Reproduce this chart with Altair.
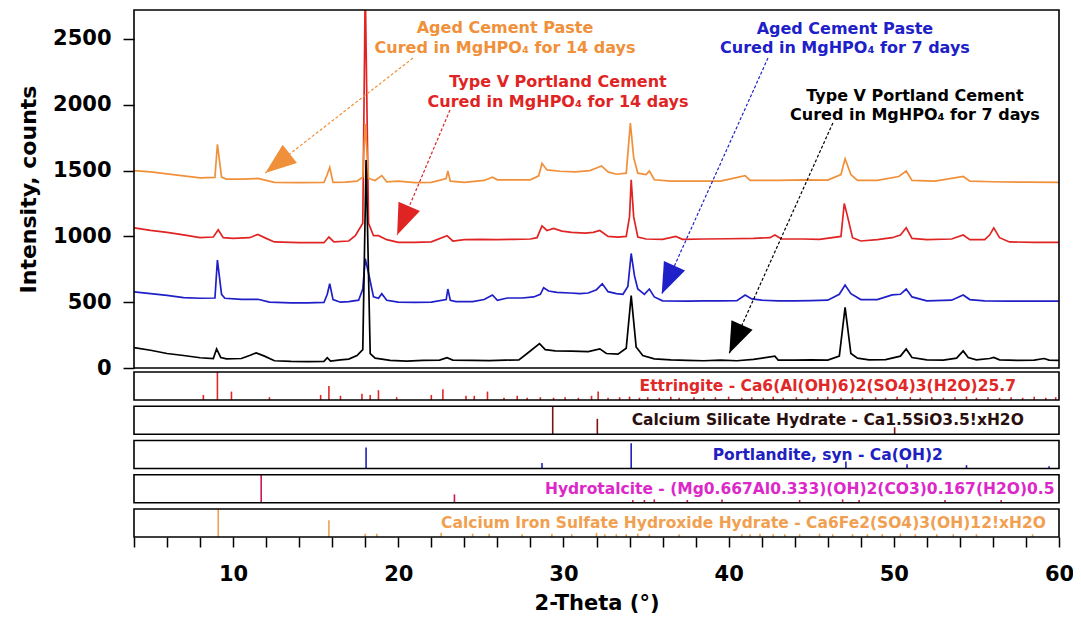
import math
import altair as alt
import pandas as pd

# ---------------- data (2-Theta in degrees, intensity in counts) ----------------
BLACK_X = [4.0, 5.0, 6.0, 7.0, 8.0, 8.8, 9.0, 9.25, 9.6, 10.5, 11.0, 11.4, 11.9, 12.5, 13.5, 14.5,
           15.5, 15.7, 15.9, 16.5, 17.0, 17.5, 17.85, 18.05, 18.3, 18.6, 18.9, 19.5, 20.5, 21.5,
           22.5, 22.95, 23.3, 24.5, 25.5, 26.5, 27.3, 27.8, 28.55, 28.9, 29.5, 30.5, 31.5, 32.2,
           32.6, 33.3, 33.8, 34.1, 34.4, 34.8, 35.5, 36.5, 37.5, 38.5, 39.5, 40.5, 41.5, 42.8,
           43.0, 44.0, 45.0, 46.0, 46.7, 47.05, 47.4, 47.8, 48.5, 49.5, 50.4, 50.75, 51.1, 52.0,
           53.0, 53.8, 54.2, 54.5, 55.0, 55.8, 56.05, 56.4, 57.5, 58.5, 59.1, 59.4, 60.0]
BLACK_Y = [155, 135, 110, 95, 78, 72, 145, 80, 70, 72, 95, 115, 90, 55, 50, 48,
           50, 78, 52, 62, 68, 95, 140, 1580, 110, 75, 70, 58, 52, 58,
           60, 78, 60, 58, 56, 60, 62, 110, 185, 140, 130, 128, 125, 145,
           110, 105, 150, 550, 160, 95, 70, 62, 58, 55, 60, 55, 65, 90,
           60, 60, 62, 60, 90, 460, 110, 75, 62, 64, 90, 145, 80, 62,
           60, 75, 130, 80, 62, 72, 80, 62, 58, 60, 72, 60, 58]

BLUE_X = [4.0, 5.0, 6.0, 7.0, 8.0, 8.9, 9.05, 9.3, 9.5, 10.5, 11.5, 12.2, 13.5, 14.5, 15.5, 15.7,
          15.85, 16.05, 16.5, 17.0, 17.6, 17.85, 18.0, 18.2, 18.5, 18.8, 19.0, 19.3, 20.0, 21.0,
          22.0, 22.9, 23.0, 23.15, 23.5, 24.5, 25.2, 25.7, 26.0, 26.6, 27.5, 28.2, 28.6, 28.8,
          29.1, 29.6, 30.4, 31.0, 31.5, 32.0, 32.35, 32.7, 33.2, 33.6, 33.9, 34.1, 34.3, 34.5,
          34.9, 35.2, 35.5, 36.0, 37.5, 38.5, 39.5, 40.5, 41.0, 41.4, 42.0, 43.0, 44.0, 45.0,
          46.0, 46.7, 47.05, 47.4, 48.0, 49.0, 49.9, 50.4, 50.75, 51.1, 52.0, 53.5, 54.2, 54.6,
          55.5, 57.0, 58.5, 60.0]
BLUE_Y = [578, 565, 552, 535, 530, 532, 820, 560, 530, 522, 522, 500, 495, 495, 498, 560,
          640, 520, 500, 505, 515, 600, 830, 720, 540, 530, 565, 515, 500, 498,
          500, 520, 600, 515, 505, 505, 520, 555, 515, 532, 532, 540, 560, 610,
          585, 575, 570, 565, 570, 595, 640, 580, 565, 560, 620, 870, 700, 600,
          560, 600, 540, 510, 508, 510, 510, 512, 555, 525, 515, 510, 510, 512,
          515, 560, 630, 565, 520, 520, 555, 560, 600, 540, 510, 515, 555, 520,
          510, 508, 508, 508]

RED_X = [4.0, 5.0, 6.0, 7.0, 8.0, 8.8, 9.1, 9.4, 10.0, 11.0, 11.5, 12.0, 12.5, 14.0, 15.5, 15.8,
         16.1, 17.0, 17.4, 17.85, 18.0, 18.2, 18.5, 18.8, 19.3, 20.0, 21.0, 22.0, 22.95, 23.3,
         24.0, 25.0, 26.0, 27.0, 28.0, 28.4, 28.7, 29.0, 29.4, 29.9, 30.5, 31.3, 31.8, 32.2,
         32.7, 33.3, 33.8, 34.0, 34.1, 34.25, 34.5, 35.0, 36.0, 36.8, 37.2, 38.5, 40.0, 41.5,
         42.5, 42.8, 43.2, 44.5, 45.5, 46.8, 47.0, 47.2, 47.5, 48.0, 49.0, 49.9, 50.4, 50.75,
         51.1, 52.0, 53.5, 54.2, 54.6, 55.5, 55.8, 56.05, 56.4, 57.0, 58.5, 60.0]
RED_Y = [1065, 1045, 1030, 1012, 990, 995, 1050, 990, 985, 990, 1015, 985, 958, 952, 952, 995,
         958, 965, 1005, 1100, 2900, 1100, 1005, 1005, 975, 955, 955, 958, 1005, 965,
         975, 978, 975, 978, 980, 990, 1080, 1045, 1060, 1040, 1030, 1025, 1030, 1045,
         1000, 995, 1000, 1150, 1430, 1150, 995, 980, 978, 1000, 978, 980, 982, 985,
         990, 1010, 980, 980, 978, 1000, 1250, 1150, 990, 965, 975, 990, 1010, 1065,
         985, 975, 980, 1010, 975, 975, 1010, 1065, 990, 958, 955, 955]

ORANGE_X = [4.0, 5.0, 6.0, 7.0, 8.0, 8.9, 9.05, 9.3, 9.6, 10.5, 11.5, 12.0, 12.5, 14.0, 15.5, 15.7,
            15.85, 16.05, 16.8, 17.5, 17.85, 18.0, 18.2, 18.6, 19.0, 19.3, 20.0, 21.0, 22.0, 22.9,
            23.0, 23.15, 24.0, 25.2, 25.7, 26.0, 27.0, 28.0, 28.5, 28.7, 29.0, 29.8, 30.7, 31.6,
            32.0, 32.3, 32.7, 33.2, 33.8, 34.05, 34.25, 34.5, 35.0, 35.2, 35.5, 36.5, 38.0, 39.5,
            41.0, 41.3, 43.0, 44.5, 46.0, 46.8, 47.05, 47.4, 47.8, 49.0, 50.3, 50.75, 51.1, 52.5,
            54.2, 54.6, 56.0, 58.0, 60.0]
ORANGE_Y = [1500, 1490, 1475, 1460, 1445, 1448, 1700, 1450, 1435, 1435, 1440, 1425, 1410, 1408, 1410, 1470,
            1525, 1410, 1412, 1420, 1450, 1855, 1440, 1425, 1462, 1415, 1420, 1408, 1410, 1440,
            1497, 1420, 1410, 1425, 1450, 1430, 1430, 1430, 1460, 1555, 1505, 1495, 1490, 1500,
            1520, 1535, 1490, 1472, 1480, 1860, 1600, 1480, 1470, 1497, 1430, 1420, 1420, 1420,
            1462, 1425, 1425, 1430, 1428, 1470, 1590, 1470, 1425, 1425, 1455, 1497, 1425, 1420,
            1455, 1420, 1415, 1412, 1410]

# reference patterns: stick positions (2-Theta) and relative heights (0..1)
ETT_POS = [8.2, 9.05, 9.9, 12.2, 15.3, 15.8, 16.5, 17.8, 18.3, 18.8, 19.9, 22.0, 22.7, 24.1, 24.6,
           25.4, 26.4, 27.2, 27.8, 28.6, 29.4, 30.1, 30.9, 31.7, 32.1, 32.7, 33.4, 34.0, 34.6,
           35.1, 35.8, 36.5, 37.0, 37.9, 38.5, 39.2, 40.0, 40.8, 41.4, 42.1, 42.7, 43.3, 44.1,
           44.8, 45.4, 46.0, 46.8, 47.5, 48.1, 48.9, 49.5, 50.2, 51.0, 51.6, 52.3, 53.0, 53.7,
           54.4, 55.0, 55.7, 56.4, 57.1, 57.8, 58.5, 59.2, 59.8]
ETT_H = [0.18, 1.0, 0.3, 0.1, 0.18, 0.5, 0.15, 0.22, 0.18, 0.35, 0.1, 0.18, 0.38, 0.15, 0.15,
         0.3, 0.08, 0.15, 0.08, 0.1, 0.08, 0.1, 0.08, 0.15, 0.3, 0.08, 0.1, 0.12, 0.08,
         0.1, 0.08, 0.12, 0.08, 0.1, 0.08, 0.1, 0.12, 0.08, 0.1, 0.08, 0.12, 0.08, 0.1,
         0.08, 0.1, 0.12, 0.08, 0.1, 0.08, 0.1, 0.08, 0.12, 0.1, 0.08, 0.1, 0.08, 0.1,
         0.12, 0.08, 0.1, 0.08, 0.1, 0.08, 0.12, 0.08, 0.1]
CSH_POS = [29.35, 32.05, 50.05]
CSH_H = [1.0, 0.55, 0.25]
PORT_POS = [18.05, 28.7, 34.1, 47.1, 50.8, 54.4, 59.4]
PORT_H = [0.75, 0.2, 0.9, 0.25, 0.15, 0.12, 0.08]
HYD_POS = [11.7, 23.4, 34.2, 34.9, 35.5, 37.5, 39.6, 44.3, 46.9, 47.9, 53.1, 56.5]
HYD_H = [1.0, 0.3, 0.1, 0.1, 0.12, 0.1, 0.12, 0.1, 0.12, 0.1, 0.1, 0.1]
CFS_POS = [9.1, 15.8, 18.0, 18.7, 22.6, 24.5, 25.5, 27.5, 29.3, 30.5, 32.0, 32.5, 33.2, 33.8,
           34.5, 35.2, 37.0, 40.8, 41.3, 41.9, 42.7, 43.4, 44.3, 45.5, 46.3, 47.5, 48.4, 49.3,
           50.4, 51.3, 52.6, 53.6, 55.0, 58.4]
CFS_H = [1.0, 0.6, 0.12, 0.12, 0.15, 0.12, 0.12, 0.1, 0.12, 0.1, 0.15, 0.1, 0.1, 0.1,
         0.12, 0.1, 0.1, 0.1, 0.1, 0.12, 0.1, 0.1, 0.1, 0.12, 0.1, 0.1, 0.1, 0.1,
         0.12, 0.1, 0.1, 0.1, 0.1, 0.1]

PHASE_LABELS = [
    "Ettringite - Ca6(Al(OH)6)2(SO4)3(H2O)25.7",
    "Calcium Silicate Hydrate - Ca1.5SiO3.5!xH2O",
    "Portlandite, syn - Ca(OH)2",
    "Hydrotalcite - (Mg0.667Al0.333)(OH)2(CO3)0.167(H2O)0.5",
    "Calcium Iron Sulfate Hydroxide Hydrate - Ca6Fe2(SO4)3(OH)12!xH2O",
]
PHASE_LABEL_X = [46.0, 46.0, 46.0, 44.3, 40.9]
PHASE_LABEL_SIZE = [15.5, 15.5, 15.5, 15.5, 15.5]
PHASE_STICK_COLORS = ["#E02828", "#7A1515", "#2020C0", "#C8185A", "#F0A050"]
PHASE_TEXT_COLORS = ["#E02828", "#2A0F0F", "#2020C0", "#DC28C8", "#F0A050"]

ANNOT_LINE1 = ["Aged Cement Paste", "Type V Portland Cement", "Aged Cement Paste", "Type V Portland Cement"]
ANNOT_LINE2 = ["Cured in MgHPO\u2084 for 14 days", "Cured in MgHPO\u2084 for 14 days",
               "Cured in MgHPO\u2084 for 7 days", "Cured in MgHPO\u2084 for 7 days"]
ANNOT_X = [26.46, 29.67, 47.04, 51.28]
ANNOT_Y1 = [2583, 2173, 2576, 2067]
ANNOT_Y2 = [2431, 2021, 2431, 1922]
ANNOT_COLORS = ["#F0903A", "#E02424", "#2020C8", "#000000"]
ARROW_START_X = [20.89, 23.13, 42.38, 46.31]
ARROW_START_Y = [2355, 1960, 2355, 1862]
ARROW_TIP_X = [11.95, 19.93, 35.95, 40.04]
ARROW_TIP_Y = [1482, 1011, 562, 112]

SERIES_COLORS = {"red": "#E02424", "orange": "#F0903A", "blue": "#1F1FC8", "black": "#000000"}

# ---------------- layout ----------------
X_MIN, X_MAX = 4, 60
Y_TOP = 2720
PLOT_W = 925
MAIN_H = 358
TOTAL_H = 527
U = Y_TOP / MAIN_H                     # counts per pixel
Y_MIN = -(TOTAL_H - MAIN_H) * U
PANEL_OFFS = [4, 38.25, 72.5, 106.75, 141]
PANEL_H = 28
PX_PER_DEG = PLOT_W / (X_MAX - X_MIN)

FONT = "DejaVu Sans"

xs = alt.Scale(domain=[X_MIN, X_MAX], nice=False, zero=False)
ys = alt.Scale(domain=[Y_MIN, Y_TOP], nice=False, zero=False)

xaxis = alt.Axis(values=list(range(4, 61, 2)),
                 labelExpr="datum.value % 10 === 0 ? datum.label : ''",
                 tickSize=10, tickWidth=1.5, tickColor="black", domain=False, grid=False,
                 labelFont=FONT, labelFontWeight="bold", labelFontSize=21, labelColor="black",
                 labelPadding=16, labelFlush=False, labelOverlap=False,
                 titleFont=FONT, titleFontWeight="bold", titleFontSize=21, titleColor="black",
                 titleY=66, titleBaseline="middle")
yaxis = alt.Axis(values=[0, 500, 1000, 1500, 2000, 2500], format="d",
                 tickSize=11, tickWidth=1.5, tickColor="black", domain=False, grid=False,
                 labelFont=FONT, labelFontWeight="bold", labelFontSize=21, labelColor="black",
                 labelPadding=12,
                 titleFont=FONT, titleFontWeight="bold", titleFontSize=22, titleColor="black",
                 titleX=-106, titleY=179, titleAngle=270, titleBaseline="middle", titleAlign="center")

XE = alt.X("x:Q", scale=xs, axis=xaxis, title="2-Theta (\u00b0)")
YE = alt.Y("y:Q", scale=ys, axis=yaxis, title="Intensity, counts")

# borders
bx, bx2, by, by2 = [X_MIN], [X_MAX], [0], [Y_TOP]
panel_bounds = []
for off in PANEL_OFFS:
    top = -off * U
    bot = -(off + PANEL_H) * U
    panel_bounds.append((bot, top))
    bx.append(X_MIN); bx2.append(X_MAX); by.append(bot); by2.append(top)
borders = pd.DataFrame({"x": bx, "x2": bx2, "y": by, "y2": by2})
border_layer = alt.Chart(borders).mark_rect(fillOpacity=0, stroke="black", strokeWidth=1.6).encode(
    x=XE, x2="x2:Q", y=YE, y2="y2:Q")

# sticks
stick_rows = []
phases = [(ETT_POS, ETT_H), (CSH_POS, CSH_H), (PORT_POS, PORT_H), (HYD_POS, HYD_H), (CFS_POS, CFS_H)]
for k, (pos, hs) in enumerate(phases):
    bot, top = panel_bounds[k]
    for p, h in zip(pos, hs):
        stick_rows.append({"x": p, "y": bot, "y2": bot + h * (top - bot), "c": PHASE_STICK_COLORS[k]})
sticks = pd.DataFrame(stick_rows)
stick_layer = alt.Chart(sticks).mark_rule(strokeWidth=1.6).encode(
    x=XE, y=YE, y2="y2:Q", color=alt.Color("c:N", scale=None))

ptext = pd.DataFrame({
    "x": PHASE_LABEL_X,
    "y": [(b + t) / 2 for b, t in panel_bounds],
    "t": PHASE_LABELS,
    "c": PHASE_TEXT_COLORS,
    "s": PHASE_LABEL_SIZE,
})
ptext_layer = alt.Chart(ptext).mark_text(font=FONT, fontWeight="bold",
                                          baseline="middle", align="center").encode(
    x=XE, y=YE, text="t:N", color=alt.Color("c:N", scale=None), size=alt.Size("s:Q", scale=None))

# spectra
def series_layer(xv, yv, col):
    df = pd.DataFrame({"x": xv, "y": yv})
    return alt.Chart(df).mark_line(clip=True, strokeWidth=1.7, color=col).encode(
        x=XE, y=YE, order="x:Q")

spec_layers = [
    series_layer(RED_X, RED_Y, SERIES_COLORS["red"]),
    series_layer(ORANGE_X, ORANGE_Y, SERIES_COLORS["orange"]),
    series_layer(BLUE_X, BLUE_Y, SERIES_COLORS["blue"]),
    series_layer(BLACK_X, BLACK_Y, SERIES_COLORS["black"]),
]

# annotations
ang = []
for sx, sy, tx, ty in zip(ARROW_START_X, ARROW_START_Y, ARROW_TIP_X, ARROW_TIP_Y):
    dx = (tx - sx) * PX_PER_DEG
    dy = -(ty - sy) / U
    ang.append(math.degrees(math.atan2(dx, -dy)) % 360)
arrows = pd.DataFrame({"x": ARROW_START_X, "y": ARROW_START_Y, "x2": ARROW_TIP_X, "y2": ARROW_TIP_Y,
                       "c": ANNOT_COLORS})
heads = pd.DataFrame({"x": ARROW_TIP_X, "y": ARROW_TIP_Y, "a": ang, "c": ANNOT_COLORS})
arrow_layer = alt.Chart(arrows).mark_rule(strokeWidth=1.2, strokeDash=[3, 2]).encode(
    x=XE, y=YE, x2="x2:Q", y2="y2:Q", color=alt.Color("c:N", scale=None))
head_layer = alt.Chart(heads).mark_point(shape="M0,0L-0.75,2L0.75,2Z", filled=True, size=961,
                                         opacity=1, strokeWidth=0).encode(
    x=XE, y=YE, angle=alt.Angle("a:Q", scale=None), color=alt.Color("c:N", scale=None))

atext = pd.DataFrame({
    "x": ANNOT_X + ANNOT_X,
    "y": ANNOT_Y1 + ANNOT_Y2,
    "t": ANNOT_LINE1 + ANNOT_LINE2,
    "c": ANNOT_COLORS + ANNOT_COLORS,
})
atext_layer = alt.Chart(atext).mark_text(font=FONT, fontSize=16, fontWeight="bold",
                                          baseline="middle", align="center").encode(
    x=XE, y=YE, text="t:N", color=alt.Color("c:N", scale=None))

chart = alt.layer(
    stick_layer, ptext_layer, *spec_layers, arrow_layer, head_layer, atext_layer, border_layer
).properties(
    width=PLOT_W, height=TOTAL_H,
    autosize=alt.AutoSizeParams(type="none"),
    padding={"left": 126, "top": 2, "right": 14, "bottom": 80},
    background="white",
).configure_view(stroke="transparent")

chart.save("out.html", embed_options={"renderer": "svg", "actions": False})
